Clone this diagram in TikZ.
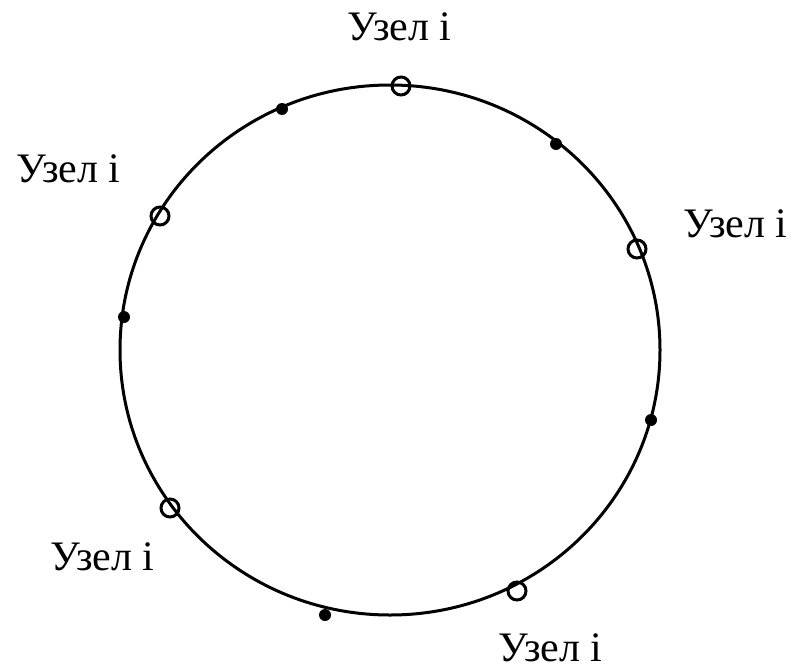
\documentclass[tikz,border=0pt]{standalone}
\usepackage{fontspec}
\setmainfont{Liberation Serif}
\begin{document}
\begin{tikzpicture}[x=1pt,y=-1pt,
  ring/.style={line width=3pt},
  opennode/.style={circle,draw,line width=3pt,minimum size=18pt,inner sep=0pt,fill=none},
  dotnode/.style={circle,fill,minimum size=12pt,inner sep=0pt},
  lbl/.style={font=\fontsize{42}{46}\selectfont,anchor=base west,inner sep=0pt}]
\useasboundingbox (0,0) rectangle (792,669);
\coordinate (c) at (390,350);
\draw[ring] (c) ellipse [x radius=270, y radius=265];
\node[opennode] (n1) at (401,86) {};
\node[opennode] (n2) at (637,249) {};
\node[opennode] (n3) at (160,216) {};
\node[opennode] (n4) at (170,508) {};
\node[opennode] (n5) at (517,591) {};
\node[dotnode] (d1) at (282,109) {};
\node[dotnode] (d2) at (556,144) {};
\node[dotnode] (d3) at (124,317) {};
\node[dotnode] (d4) at (651,420) {};
\node[dotnode] (d5) at (325,615) {};
\node[lbl] (l1) at (347,41) {Узел i};
\node[lbl] (l2) at (16,182) {Узел i};
\node[lbl] (l3) at (683,237) {Узел i};
\node[lbl] (l4) at (50,570) {Узел i};
\node[lbl] (l5) at (498,661) {Узел i};
\end{tikzpicture}
\end{document}
